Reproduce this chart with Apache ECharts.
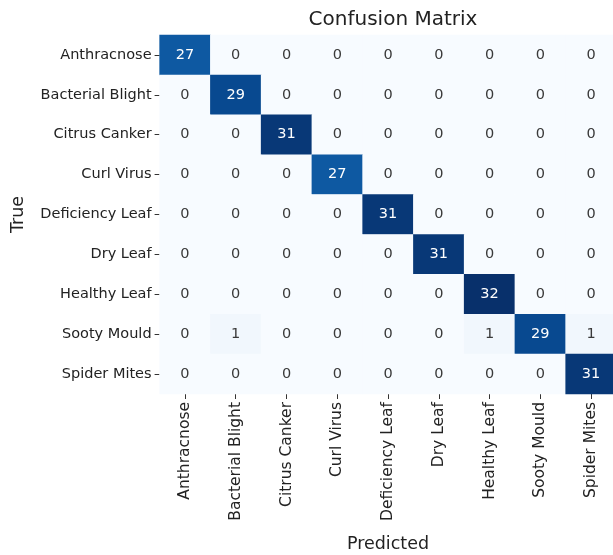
<!DOCTYPE html>
<html><head><meta charset="utf-8">
<script src="https://cdn.jsdelivr.net/npm/echarts@6/dist/echarts.min.js"></script>
<style>html,body{margin:0;padding:0;background:#fff}#c{width:613px;height:555px}</style>
</head><body><div id="c"></div>
<script>
const classes = ['Anthracnose','Bacterial Blight','Citrus Canker','Curl Virus','Deficiency Leaf','Dry Leaf','Healthy Leaf','Sooty Mould','Spider Mites'];
// rows = true, cols = predicted
const matrix = [
  [27,0,0,0,0,0,0,0,0],
  [0,29,0,0,0,0,0,0,0],
  [0,0,31,0,0,0,0,0,0],
  [0,0,0,27,0,0,0,0,0],
  [0,0,0,0,31,0,0,0,0],
  [0,0,0,0,0,31,0,0,0],
  [0,0,0,0,0,0,32,0,0],
  [0,1,0,0,0,0,1,29,1],
  [0,0,0,0,0,0,0,0,31]
];
const blues = ['#f7fbff','#deebf7','#c6dbef','#9ecae1','#6baed6','#4292c6','#2171b5','#08519c','#08306b'];
const data = [];
matrix.forEach((row, r) => row.forEach((v, c) => {
  data.push({value: [c, r, v], label: {color: v > 16 ? '#ffffff' : '#3a3a3a'}});
}));
const font = 'DejaVu Sans';
const chart = echarts.init(document.getElementById('c'));
chart.setOption({
  animation: false,
  title: {text: 'Confusion Matrix', left: 388, textAlign: 'center', top: 5,
    textStyle: {fontFamily: font, fontSize: 20, fontWeight: 'normal', color: '#222'}},
  grid: {left: 159.6, right: -3.4, top: 35, bottom: 161, outerBoundsMode: 'none', containLabel: false},
  xAxis: {type: 'category', data: classes, name: 'Predicted', nameLocation: 'middle', nameGap: 141,
    nameTextStyle: {fontFamily: font, fontSize: 17.5, color: '#222'},
    axisLine: {show: false}, splitArea: {show: false},
    axisTick: {show: true, alignWithLabel: true, length: 5, lineStyle: {color: '#333'}},
    axisLabel: {rotate: 90, fontFamily: font, fontSize: 15.5, color: '#222', margin: 8, interval: 0}},
  yAxis: {type: 'category', data: classes, inverse: true, name: 'True', nameLocation: 'middle', nameGap: 132, nameRotate: 90,
    nameTextStyle: {fontFamily: font, fontSize: 17.5, color: '#222'},
    axisLine: {show: false}, splitArea: {show: false},
    axisTick: {show: true, alignWithLabel: true, length: 5, lineStyle: {color: '#333'}},
    axisLabel: {fontFamily: font, fontSize: 14.5, color: '#222', margin: 8, interval: 0}},
  visualMap: {show: false, min: 0, max: 32, dimension: 2, inRange: {color: blues}},
  series: [{type: 'heatmap', data: data,
    label: {show: true, fontFamily: font, fontSize: 14.5, formatter: p => p.value[2]},
    itemStyle: {borderWidth: 0}, emphasis: {disabled: true}}]
});
</script></body></html>
